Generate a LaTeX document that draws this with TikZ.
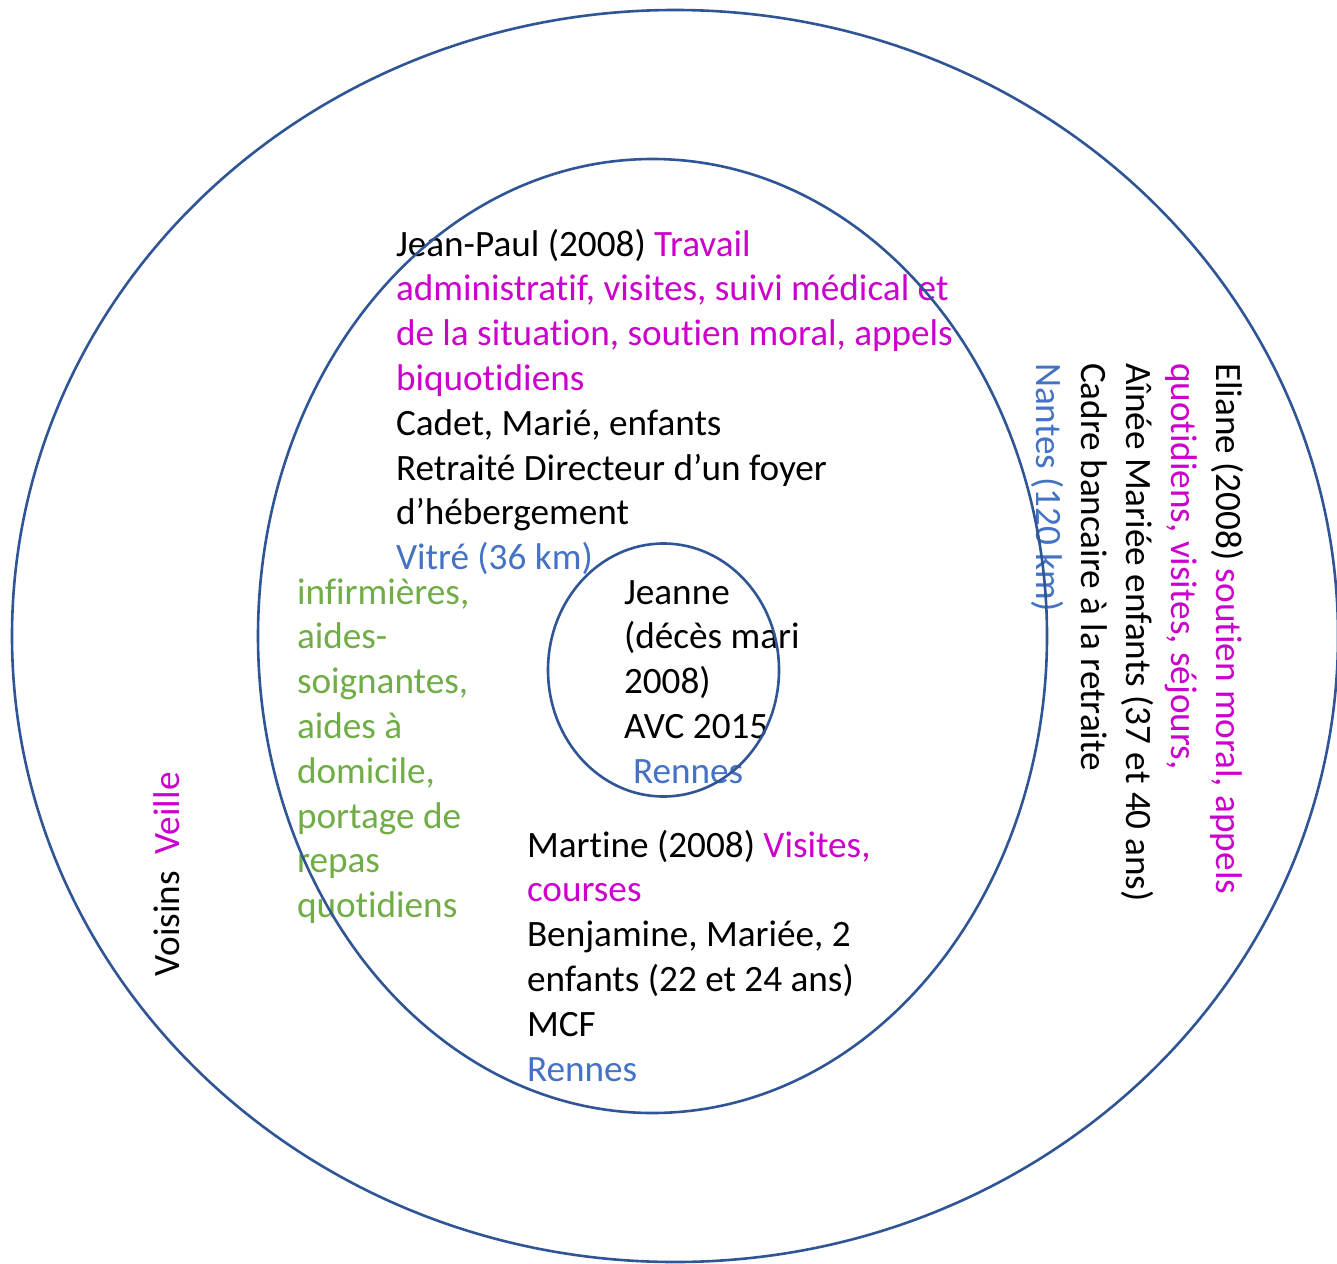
\documentclass[tikz,border=0pt]{standalone}
\usepackage{fontspec}
\setmainfont{Carlito}[Ligatures={NoCommon},RawFeature={-liga;-clig;-calt;-dlig}]
\usetikzlibrary{shapes.geometric}
\definecolor{ringblue}{RGB}{47,85,151}
\definecolor{mag}{RGB}{204,0,204}
\definecolor{townblue}{RGB}{68,114,196}
\definecolor{caregreen}{RGB}{112,173,71}
\newcommand{\tI}{t\kern0pt i}
\begin{document}
\begin{tikzpicture}[x=1pt,y=-1pt,
  txt/.style={anchor=base west, inner sep=0pt, outer sep=0pt, font=\fontsize{37.2}{44.8}\selectfont},
  ring/.style={draw=ringblue, line width=2.6pt, ellipse, inner sep=0pt, outer sep=0pt}]
\useasboundingbox (0,0) rectangle (1337,1263);
\fill[white] (0,0) rectangle (1337,1263);
% Jean-Paul block
\node[txt] (jp1) at (396,256) {Jean-Paul (2008) \textcolor{mag}{Travail}};
\node[txt,text=mag] (jp2) at (396,300.8) {administra\tI f, visites, suivi médical et};
\node[txt,text=mag] (jp3) at (396,345.6) {de la situa\tI on, sou\tI en moral, appels};
\node[txt,text=mag] (jp4) at (396,390.4) {biquo\tI diens};
\node[txt] (jp5) at (396,435.2) {Cadet, Marié, enfants};
\node[txt] (jp6) at (396,480) {Retraité Directeur d’un foyer};
\node[txt] (jp7) at (396,524.8) {d’hébergement};
\node[txt,text=townblue] (jp8) at (396,569.6) {Vitré (36 km)};
% green block
\node[txt,text=caregreen] (g1) at (297,604) {inf\kern0pt irmières,};
\node[txt,text=caregreen] (g2) at (297,648.8) {aides-};
\node[txt,text=caregreen] (g3) at (297,693.6) {soignantes,};
\node[txt,text=caregreen] (g4) at (297,738.4) {aides à};
\node[txt,text=caregreen] (g5) at (297,783.2) {domicile,};
\node[txt,text=caregreen] (g6) at (297,828) {portage de};
\node[txt,text=caregreen] (g7) at (297,872.8) {repas};
\node[txt,text=caregreen] (g8) at (297,917.6) {quo\tI diens};
% Jeanne
\node[txt] (j1) at (624,604) {Jeanne};
\node[txt] (j2) at (624,648.8) {(décès mari};
\node[txt] (j3) at (624,693.6) {2008)};
\node[txt] (j4) at (624,738.4) {AVC 2015};
\node[txt,text=townblue] (j5) at (633,783.2) {Rennes};
% Martine
\node[txt] (m1) at (527,857) {Mar\tI ne (2008) \textcolor{mag}{Visites,}};
\node[txt,text=mag] (m2) at (527,901.8) {courses};
\node[txt] (m3) at (527,946.6) {Benjamine, Mariée, 2};
\node[txt] (m4) at (527,991.4) {enfants (22 et 24 ans)};
\node[txt] (m5) at (527,1036.2) {MCF};
\node[txt,text=townblue] (m6) at (527,1081) {Rennes};
% Eliane (rotated)
\node[txt,rotate=-90] (e1) at (1216,363) {Eliane (2008) \textcolor{mag}{sou\tI en moral, appels}};
\node[txt,rotate=-90,text=mag] (e2) at (1171.2,363) {quo\tI diens, visites, séjours,};
\node[txt,rotate=-90] (e3) at (1126.4,363) {Aînée Mariée enfants (37 et 40 ans)};
\node[txt,rotate=-90] (e4) at (1081.6,363) {Cadre bancaire à la retraite};
\node[txt,rotate=-90,text=townblue] (e5) at (1036.8,363) {Nantes (120 km)};
% Voisins
\node[txt,rotate=90] (vo) at (179,976) {Voisins~~\textcolor{mag}{Veille}};
% rings
\node[ring, minimum width=1326pt, minimum height=1252pt] (outer) at (675,636) {};
\node[ring, minimum width=789pt, minimum height=954pt] (middle) at (652.5,636) {};
\node[ring, minimum width=231pt, minimum height=253pt] (inner) at (663.5,670) {};
\end{tikzpicture}
\end{document}
